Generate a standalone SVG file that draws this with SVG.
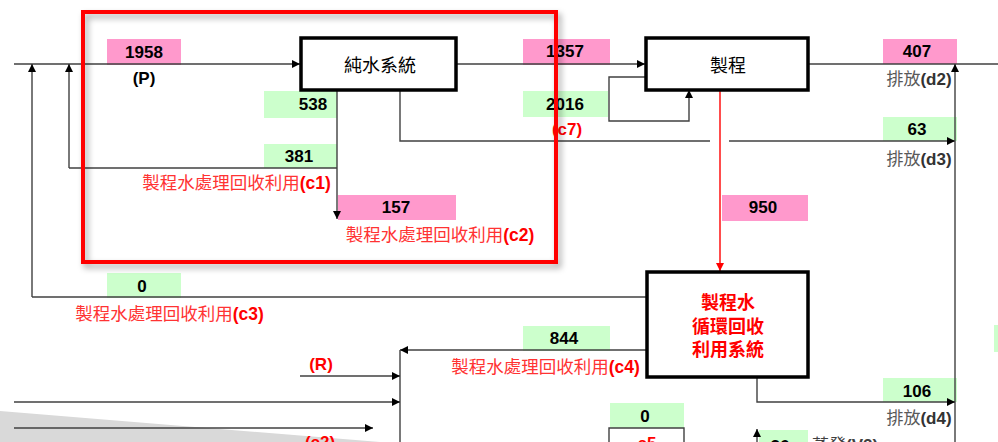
<svg xmlns="http://www.w3.org/2000/svg" width="998" height="442" viewBox="0 0 998 442">
<style>
text{font-family:"Liberation Sans","Noto Sans CJK TC",sans-serif;}
.num{font-size:17px;font-weight:bold;fill:#000;text-anchor:middle;}
.pk{fill:#ff99cc;}
.gn{fill:#ccffcc;}
.lbl{font-size:17.5px;fill:#ff3333;text-anchor:middle;}
.b{font-weight:bold;}
.rb{font-size:17px;font-weight:bold;fill:#ff0000;text-anchor:middle;}
.dis{font-size:17px;fill:#595959;text-anchor:middle;}
.dk{fill:#333;font-weight:bold;}
.ln{fill:none;stroke:#404040;stroke-width:1.4;}
.ar{marker-end:url(#ah);}
.box{fill:#fff;stroke:#000;stroke-width:3.5;}
.bt{font-size:18px;fill:#000;text-anchor:middle;}
.rt{font-size:18px;font-weight:bold;fill:#ff0000;text-anchor:middle;}
</style>
<defs>
<marker id="ah" viewBox="0 0 10 10" refX="10" refY="5" markerWidth="9" markerHeight="8" markerUnits="userSpaceOnUse" orient="auto"><path d="M0,0 L10,5 L0,10 z" fill="#000"/></marker>
<marker id="ahr" viewBox="0 0 10 10" refX="10" refY="5" markerWidth="9" markerHeight="8" markerUnits="userSpaceOnUse" orient="auto"><path d="M0,0 L10,5 L0,10 z" fill="#ff0000"/></marker>
<filter id="sh" x="-10%" y="-10%" width="120%" height="120%"><feDropShadow dx="3" dy="4" stdDeviation="3" flood-color="#000" flood-opacity="0.35"/></filter>
</defs>
<rect width="998" height="442" fill="#fff"/>
<polygon points="0,411 380,442 0,442" fill="#d9d9d9"/>

<g id="labels-bg">
<rect class="pk" x="107" y="39" width="74" height="26"/>
<rect class="gn" x="264" y="91" width="73" height="27"/>
<rect class="gn" x="264" y="144" width="73" height="24"/>
<rect class="pk" x="338" y="195" width="118" height="25"/>
<rect class="pk" x="523" y="39" width="87" height="26"/>
<rect class="gn" x="523" y="91" width="85" height="26"/>
<rect class="pk" x="883" y="39" width="74" height="25"/>
<rect class="gn" x="883" y="117" width="74" height="24"/>
<rect class="pk" x="722" y="195" width="86" height="26"/>
<rect class="gn" x="107" y="273" width="74" height="25"/>
<rect class="gn" x="523" y="326" width="87" height="25"/>
<rect class="gn" x="883" y="378" width="74" height="24"/>
<rect class="gn" x="610" y="403" width="74" height="25"/>
<rect class="gn" x="759" y="430" width="49" height="12"/>
<rect class="gn" x="994" y="325" width="4" height="27"/>
</g>

<g id="connectors">
<path class="ln ar" d="M14,64 H300"/>
<path class="ln ar" d="M32,297 V64"/>
<path class="ln ar" d="M69,168 V64"/>
<path class="ln" d="M337,168 H69"/>
<path class="ln ar" d="M337,90 V219"/>
<path class="ln" d="M400,90 V141 H710"/>
<path class="ln ar" d="M729,141 H955"/>
<path class="ln ar" d="M456,64 H645"/>
<path class="ln" d="M808,64 H998"/>
<path class="ln ar" d="M955,442 V64"/>
<path class="ln ar" d="M645,77 H609 V121 H689 V90"/>
<path fill="none" stroke="#ff0000" stroke-width="1.4" marker-end="url(#ahr)" d="M720,90 V271"/>
<path class="ln" d="M646,297 H32"/>
<path class="ln ar" d="M646,350 H400"/>
<path class="ln" d="M400,350 V442"/>
<path class="ln ar" d="M300,376 H400"/>
<path class="ln ar" d="M14,402 H400"/>
<path class="ln ar" d="M14,428 H373"/>
<path class="ln ar" d="M757,377 V402 H955"/>
<path class="ln ar" d="M757,442 V429"/>
<path class="ln" d="M609,442 V428 H684 V442"/>
</g>

<g id="pure-water">
<rect class="box" x="301" y="38" width="155" height="52"/>
<text class="bt" x="380" y="72">純水系統</text>
</g>
<g id="process">
<rect class="box" x="646" y="38" width="162" height="52"/>
<text class="bt" x="728" y="72">製程</text>
</g>
<g id="recycle">
<rect class="box" x="647" y="272" width="161" height="105"/>
<text class="rt" x="728" y="309">製程水</text>
<text class="rt" x="728" y="333">循環回收</text>
<text class="rt" x="728" y="356">利用系統</text>
</g>

<g id="texts">
<text class="num" x="144" y="57.5">1958</text>
<text class="num" x="144" y="84">(P)</text>
<text class="num" x="313" y="110">538</text>
<text class="num" x="299" y="161.5">381</text>
<text class="lbl" x="236.5" y="189">製程水處理回收利用<tspan class="b" fill="#ff0000">(c1)</tspan></text>
<text class="num" x="396" y="213">157</text>
<text class="lbl" x="440" y="241">製程水處理回收利用<tspan class="b" fill="#ff0000">(c2)</tspan></text>
<text class="num" x="565" y="57">1357</text>
<text class="num" x="565" y="110">2016</text>
<text class="rb" x="567" y="135">(c7)</text>
<text class="num" x="917" y="57">407</text>
<text class="dis" x="919" y="85">排放<tspan class="dk">(d2)</tspan></text>
<text class="num" x="917" y="135">63</text>
<text class="dis" x="919" y="165">排放<tspan class="dk">(d3)</tspan></text>
<text class="num" x="763" y="213">950</text>
<text class="num" x="142" y="291.5">0</text>
<text class="lbl" x="169.5" y="320">製程水處理回收利用<tspan class="b" fill="#ff0000">(c3)</tspan></text>
<text class="num" x="564" y="344">844</text>
<text class="lbl" x="545.5" y="373">製程水處理回收利用<tspan class="b" fill="#ff0000">(c4)</tspan></text>
<text class="rb" x="321" y="370">(R)</text>
<text class="num" x="917" y="396.5">106</text>
<text class="dis" x="919" y="424">排放<tspan class="dk">(d4)</tspan></text>
<text class="num" x="645" y="422">0</text>
<text class="rb" x="647" y="449">c5</text>
<text class="rb" x="320" y="448">(c2)</text>
<text class="num" x="780" y="452">36</text>
<text x="812" y="451" font-size="17" fill="#404040">蒸發<tspan font-weight="bold">(V2)</tspan></text>
</g>

<g id="frame"><rect x="83" y="12" width="473" height="250" fill="none" stroke="#ff0000" stroke-width="4" filter="url(#sh)"/></g>
</svg>
